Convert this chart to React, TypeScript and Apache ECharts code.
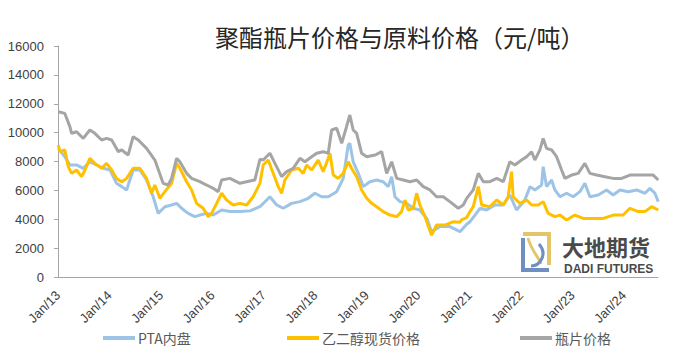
import React, { useEffect, useRef } from "react";
import * as echarts from "echarts";

const titleText = "聚酯瓶片价格与原料价格（元/吨）";
const seriesNames = ["PTA内盘", "乙二醇现货价格", "瓶片价格"];
const seriesColors = ["#9DC3E6", "#FFC000", "#A5A5A5"];
const yTicks = { min: 0, max: 16000, interval: 2000 };

const ptaData: [string, number][] = [
  ["2013-01-03", 8910], ["2013-02-19", 8330], ["2013-03-25", 7760], ["2013-05-11", 7760],
  ["2013-06-28", 7530], ["2013-08-14", 7980], ["2013-10-01", 7760], ["2013-11-17", 7530],
  ["2014-01-05", 7410], ["2014-02-21", 6490], ["2014-03-27", 6260], ["2014-05-01", 6030],
  ["2014-06-17", 7410], ["2014-08-04", 7410], ["2014-09-21", 6720], ["2014-11-07", 5560],
  ["2014-12-12", 4410], ["2015-01-29", 4870], ["2015-03-16", 4990], ["2015-04-21", 5100],
  ["2015-05-26", 4760], ["2015-07-12", 4410], ["2015-08-29", 4180], ["2015-10-04", 4290],
  ["2015-11-21", 4410], ["2016-01-07", 4290], ["2016-03-06", 4640], ["2016-05-04", 4530],
  ["2016-07-14", 4530], ["2016-09-24", 4580], ["2016-12-04", 4870], ["2017-02-14", 5560],
  ["2017-04-01", 4990], ["2017-05-17", 4760], ["2017-07-16", 5100], ["2017-09-14", 5220],
  ["2017-11-12", 5450], ["2017-12-29", 5800], ["2018-02-16", 5560], ["2018-04-02", 5560],
  ["2018-06-01", 5910], ["2018-07-17", 6830], ["2018-08-22", 9140], ["2018-09-03", 9260],
  ["2018-09-27", 7980], ["2018-11-02", 7180], ["2018-12-07", 6260], ["2019-01-24", 6600],
  ["2019-03-11", 6720], ["2019-04-27", 6600], ["2019-06-02", 6260], ["2019-06-26", 6950],
  ["2019-07-19", 5560], ["2019-08-24", 5220], ["2019-10-11", 5100], ["2019-11-27", 4760],
  ["2020-01-13", 4640], ["2020-03-01", 4060], ["2020-04-05", 3140], ["2020-06-03", 3490],
  ["2020-08-13", 3490], ["2020-10-24", 3140], ["2020-12-11", 3650], ["2021-01-04", 3830],
  ["2021-02-09", 4290], ["2021-03-14", 4760], ["2021-04-30", 4640], ["2021-06-29", 4990],
  ["2021-08-27", 4990], ["2021-10-13", 5680], ["2021-11-30", 4640], ["2022-01-28", 5330],
  ["2022-03-04", 6260], ["2022-04-08", 6030], ["2022-05-25", 6370], ["2022-06-06", 7640],
  ["2022-06-30", 6260], ["2022-08-05", 6720], ["2022-08-28", 6030], ["2022-10-03", 5560],
  ["2022-11-20", 5800], ["2023-01-06", 5560], ["2023-02-23", 5910], ["2023-03-28", 6490],
  ["2023-05-03", 5560], ["2023-07-01", 5680], ["2023-08-30", 6030], ["2023-10-16", 5680],
  ["2023-12-03", 6030], ["2024-02-01", 5910], ["2024-03-30", 6030], ["2024-05-28", 5800],
  ["2024-07-03", 6140], ["2024-08-08", 5800], ["2024-09-01", 5220],
];

const megData: [string, number][] = [
  ["2013-01-03", 9140], ["2013-01-15", 8680], ["2013-02-19", 8800], ["2013-03-13", 7640],
  ["2013-04-06", 7180], ["2013-05-11", 7410], ["2013-06-16", 6950], ["2013-07-10", 7410],
  ["2013-08-14", 8220], ["2013-09-19", 7870], ["2013-11-06", 7530], ["2013-12-11", 7870],
  ["2014-01-17", 7410], ["2014-02-21", 6830], ["2014-03-27", 6600], ["2014-05-01", 6830],
  ["2014-06-17", 7530], ["2014-08-04", 7530], ["2014-09-21", 6830], ["2014-10-26", 5800],
  ["2014-11-19", 6370], ["2014-12-24", 5450], ["2015-01-29", 5910], ["2015-03-16", 6490],
  ["2015-04-21", 7870], ["2015-05-14", 7530], ["2015-07-01", 6600], ["2015-08-06", 6030],
  ["2015-09-11", 5100], ["2015-10-27", 4760], ["2015-12-02", 4180], ["2015-12-26", 4410],
  ["2016-02-01", 5100], ["2016-03-06", 5800], ["2016-04-11", 5330], ["2016-05-27", 4990],
  ["2016-07-14", 5100], ["2016-09-01", 4990], ["2016-10-17", 5560], ["2016-11-11", 6030],
  ["2016-12-04", 6490], ["2016-12-27", 7760], ["2017-02-02", 8100], ["2017-03-07", 7180],
  ["2017-04-12", 6260], ["2017-05-06", 5800], ["2017-05-29", 6720], ["2017-07-16", 7410],
  ["2017-09-02", 7530], ["2017-10-07", 7180], ["2017-11-01", 7760], ["2017-12-06", 7410],
  ["2018-01-22", 8100], ["2018-02-27", 7300], ["2018-04-02", 8220], ["2018-04-14", 8570],
  ["2018-05-07", 7060], ["2018-06-12", 6830], ["2018-07-17", 7180], ["2018-08-22", 7980],
  ["2018-09-15", 7530], ["2018-10-21", 6950], ["2018-11-26", 6030], ["2019-01-01", 5450],
  ["2019-02-06", 5100], ["2019-03-11", 4870], ["2019-04-27", 4530], ["2019-06-14", 4290],
  ["2019-08-01", 4180], ["2019-09-05", 4530], ["2019-09-29", 5330], ["2019-10-22", 4640],
  ["2019-11-27", 4760], ["2019-12-21", 5800], ["2020-01-13", 4990], ["2020-02-19", 4180],
  ["2020-04-05", 2900], ["2020-05-10", 3600], ["2020-07-09", 3600], ["2020-09-07", 3830],
  ["2020-10-24", 3800], ["2020-11-05", 3950], ["2020-12-11", 4120], ["2021-01-04", 4530],
  ["2021-01-27", 4870], ["2021-03-02", 6260], ["2021-03-26", 4990], ["2021-05-23", 4870],
  ["2021-07-11", 5330], ["2021-08-27", 4990], ["2021-10-01", 5560], ["2021-10-25", 7300],
  ["2021-11-06", 5560], ["2021-12-23", 5100], ["2022-02-10", 5330], ["2022-03-15", 4990],
  ["2022-05-01", 4990], ["2022-06-06", 5220], ["2022-07-11", 4410], ["2022-08-28", 4180],
  ["2022-10-03", 4290], ["2022-11-20", 3950], ["2023-01-18", 4290], ["2023-03-16", 4060],
  ["2023-05-26", 4060], ["2023-08-06", 4060], ["2023-10-16", 4290], ["2023-12-26", 4290],
  ["2024-02-13", 4760], ["2024-04-11", 4530], ["2024-05-28", 4530], ["2024-07-15", 4870],
  ["2024-09-01", 4640],
];

const chipData: [string, number][] = [
  ["2013-01-03", 11450], ["2013-02-19", 11330], ["2013-03-25", 10400], ["2013-04-06", 9950],
  ["2013-05-11", 10060], ["2013-06-28", 9600], ["2013-08-14", 10180], ["2013-09-19", 9950],
  ["2013-11-06", 9490], ["2013-12-11", 9600], ["2014-01-17", 9490], ["2014-03-03", 8680],
  ["2014-03-27", 8800], ["2014-05-12", 8450], ["2014-06-17", 9720], ["2014-07-23", 9490],
  ["2014-09-21", 8910], ["2014-11-19", 8100], ["2015-01-17", 6490], ["2015-02-22", 6370],
  ["2015-03-16", 6830], ["2015-04-21", 8220], ["2015-05-14", 7980], ["2015-07-01", 7180],
  ["2015-08-06", 6830], ["2015-10-04", 6600], ["2015-11-21", 6370], ["2016-01-07", 6140],
  ["2016-02-12", 5910], ["2016-03-06", 6720], ["2016-05-04", 6830], ["2016-07-14", 6490],
  ["2016-09-24", 6650], ["2016-10-29", 6720], ["2016-12-04", 8150], ["2016-12-27", 8100],
  ["2017-02-14", 8570], ["2017-03-19", 7870], ["2017-05-06", 6950], ["2017-06-11", 7300],
  ["2017-07-27", 7530], ["2017-09-14", 8220], ["2017-10-19", 7980], ["2017-12-06", 8330],
  ["2018-01-11", 8570], ["2018-02-27", 8680], ["2018-04-02", 8570], ["2018-04-26", 10180],
  ["2018-06-01", 10300], ["2018-07-06", 9260], ["2018-08-10", 10410], ["2018-09-03", 11220],
  ["2018-09-27", 10180], ["2018-10-21", 9950], ["2018-11-26", 8570], ["2019-01-01", 8330],
  ["2019-03-01", 8450], ["2019-04-16", 8680], ["2019-05-21", 7180], ["2019-06-26", 7980],
  ["2019-08-01", 6830], ["2019-09-17", 6720], ["2019-11-04", 6600], ["2019-12-21", 6720],
  ["2020-02-07", 6260], ["2020-03-24", 6030], ["2020-05-10", 5560], ["2020-06-27", 5560],
  ["2020-08-13", 5220], ["2020-10-12", 4760], ["2020-11-17", 4990], ["2020-12-11", 5450],
  ["2021-01-27", 6030], ["2021-03-02", 7180], ["2021-04-07", 6600], ["2021-05-23", 6600],
  ["2021-07-11", 6830], ["2021-08-27", 6600], ["2021-10-13", 7980], ["2021-11-18", 7760],
  ["2022-01-05", 8100], ["2022-02-10", 8330], ["2022-03-15", 8680], ["2022-04-08", 8100],
  ["2022-05-13", 8800], ["2022-06-06", 9600], ["2022-06-30", 8910], ["2022-08-05", 8800],
  ["2022-09-10", 8330], ["2022-10-15", 7410], ["2022-11-08", 6830], ["2022-12-25", 7060],
  ["2023-02-11", 7180], ["2023-03-28", 7870], ["2023-05-03", 7180], ["2023-06-20", 7060],
  ["2023-08-18", 6950], ["2023-10-16", 6830], ["2023-12-15", 6830], ["2024-02-13", 7060],
  ["2024-04-11", 7060], ["2024-06-10", 7060], ["2024-07-26", 7060], ["2024-09-01", 6720],
];

const xMinYear = 2013;
const xMaxYear = 2024.662;

function toYear(d: string): number {
  const [y, m, day] = d.split("-").map(Number);
  return y + (m - 1) / 12 + (day - 1) / 365;
}

const toPoints = (arr: [string, number][]) => arr.map(([d, v]) => [toYear(d), v]);

export default function App() {
  const ref = useRef<HTMLDivElement>(null);

  useEffect(() => {
    if (!ref.current) return;
    const chart = echarts.init(ref.current, null, { renderer: "svg" });
    const allData = [ptaData, megData, chipData];
    const legendLefts = [98, 282, 515];

    chart.setOption({
      animation: false,
      backgroundColor: "#ffffff",
      title: {
        text: titleText,
        left: 210,
        top: 19,
        textStyle: {
          fontFamily: "Noto Sans CJK SC",
          fontSize: 24,
          fontWeight: "normal",
          color: "#262626",
        },
      },
      legend: seriesNames.map((name, i) => ({
        data: [name],
        left: legendLefts[i],
        top: 326,
        icon: "rect",
        itemWidth: 32,
        itemHeight: 4,
        itemGap: 0,
        textStyle: {
          fontFamily: "Noto Sans CJK SC",
          fontSize: 14,
          color: "#595959",
          padding: [0, 0, 0, -2],
        },
      })),
      grid: { left: 58, right: 42, top: 46, bottom: 83 },
      xAxis: {
        type: "value",
        min: xMinYear,
        max: xMaxYear,
        interval: 1,
        splitLine: { show: false },
        axisTick: { show: false },
        axisLine: { lineStyle: { color: "#A6A6A6", width: 1 } },
        axisLabel: {
          rotate: 45,
          margin: 16,
          showMaxLabel: false,
          fontFamily: "Liberation Sans",
          fontSize: 13,
          color: "#404040",
          formatter: (v: number) =>
            Math.abs(v - Math.round(v)) < 1e-6 ? "Jan/" + String(Math.round(v)).slice(2) : "",
        },
      },
      yAxis: {
        type: "value",
        min: yTicks.min,
        max: yTicks.max,
        interval: yTicks.interval,
        splitLine: { show: false },
        axisLine: { show: true, lineStyle: { color: "#A6A6A6", width: 1 } },
        axisTick: { show: true, length: 4, lineStyle: { color: "#A6A6A6" } },
        axisLabel: {
          margin: 14,
          fontFamily: "Liberation Sans",
          fontSize: 13,
          color: "#404040",
          formatter: (v: number) => String(v),
        },
      },
      series: allData.map((arr, i) => ({
        name: seriesNames[i],
        type: "line",
        data: toPoints(arr),
        showSymbol: false,
        symbol: "none",
        color: seriesColors[i],
        lineStyle: { width: 3, color: seriesColors[i] },
        z: 2 + i,
      })),
      graphic: [
        {
          type: "polygon",
          shape: { points: [[521, 238], [525, 238], [525, 268], [549, 268], [549, 272], [521, 272]] },
          style: { fill: "#6F8FC3" },
        },
        {
          type: "polygon",
          shape: { points: [[523, 232], [551, 232], [551, 265], [547, 265], [547, 236], [523, 236]] },
          style: { fill: "#E4C66A" },
        },
        {
          type: "bezierCurve",
          shape: { x1: 528, y1: 238, cpx1: 531, cpy1: 250, cpx2: 538, cpy2: 256, x2: 541, y2: 264 },
          style: { stroke: "#E4C66A", lineWidth: 3, fill: null },
        },
        {
          type: "bezierCurve",
          shape: { x1: 539, y1: 244, cpx1: 548, cpy1: 254, cpx2: 540, cpy2: 266, x2: 531, y2: 266 },
          style: { stroke: "#6F8FC3", lineWidth: 3, fill: null },
        },
        {
          type: "text",
          x: 562,
          y: 246,
          style: {
            text: "大地期货",
            font: "bold 22px 'Noto Sans CJK SC'",
            fill: "#4A4A4A",
            verticalAlign: "middle",
          },
        },
        {
          type: "text",
          x: 564,
          y: 269,
          style: {
            text: "DADI FUTURES",
            font: "bold 12px 'Liberation Sans'",
            fill: "#4A4A4A",
            verticalAlign: "middle",
          },
        },
      ],
    });

    return () => chart.dispose();
  }, []);

  return (
    <div
      ref={ref}
      style={{ position: "fixed", left: 0, top: 0, width: 700, height: 360, background: "#fff" }}
    />
  );
}
